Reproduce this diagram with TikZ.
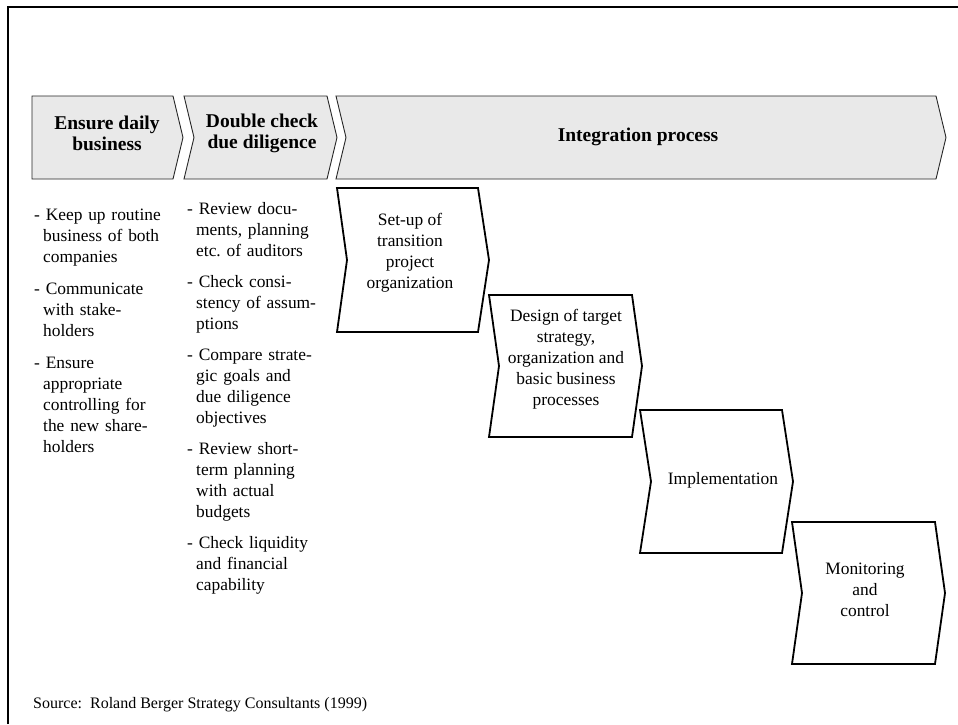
\documentclass[tikz,border=0pt]{standalone}
\usepackage{fontspec}
\setmainfont{Liberation Serif}
\frenchspacing
\definecolor{hdrgray}{HTML}{E9E9E9}
\newcommand{\ind}{\hspace*{9pt}}
\tikzset{
  hdr/.style={draw=black!85, line width=0.9pt, fill=hdrgray, line join=miter},
  stepbox/.style={draw=black, line width=1.8pt, fill=white, line join=miter},
  hdrtext/.style={font=\bfseries\fontsize{19.5}{21}\selectfont, align=center, inner sep=0pt},
  boxtext/.style={font=\fontsize{17.4}{21}\selectfont, align=center, inner sep=0pt},
  coltext/.style={font=\fontsize{17.4}{21}\selectfont, align=left, anchor=north west,
                  inner sep=0pt, text width=148pt},
}
\begin{document}
\begin{tikzpicture}[x=1pt, y=-1pt]
\useasboundingbox (0,0) rectangle (958,724);

% outer frame (left and top edges)
\draw[line width=2pt, black] (7.5,724) -- (7.5,6.5) -- (958,6.5);

% phase header chevrons
\draw[hdr] (32,96) -- (173,96) -- (183,137.5) -- (173,179) -- (32,179) -- cycle;
\draw[hdr] (184,96) -- (327,96) -- (337,137.5) -- (327,179) -- (184,179) -- (194,137.5) -- cycle;
\draw[hdr] (336,96) -- (936,96) -- (946,137.5) -- (936,179) -- (336,179) -- (346,137.5) -- cycle;

\node[hdrtext] (h1) at (107,133) {Ensure daily\\business};
\node[hdrtext] (h2) at (262,133) {Double check\\due diligence};
\node[hdrtext] (h3) at (638,137) {Integration process};

% activity lists
\node[coltext] (c1) at (34,209) {%
- Keep up routine\\\ind business of both\\\ind companies\\[11pt]
- Communicate\\\ind with stake-\\\ind holders\\[11pt]
- Ensure\\\ind appropriate\\\ind controlling for\\\ind the new share-\\\ind holders};

\node[coltext] (c2) at (187,202) {%
- Review docu-\\\ind ments, planning\\\ind etc. of auditors\\[10pt]
- Check consi-\\\ind stency of assum-\\\ind ptions\\[10pt]
- Compare strate-\\\ind gic goals and\\\ind due diligence\\\ind objectives\\[10pt]
- Review short-\\\ind term planning\\\ind with actual\\\ind budgets\\[10pt]
- Check liquidity\\\ind and financial\\\ind capability};

% integration steps
\draw[stepbox] (337,188) -- (478,188) -- (489,260) -- (478,332) -- (337,332) -- (347,260) -- cycle;
\draw[stepbox] (489,295) -- (632,295) -- (642,366) -- (632,437) -- (489,437) -- (499,366) -- cycle;
\draw[stepbox] (640,410) -- (782,410) -- (793,481.5) -- (782,553) -- (640,553) -- (651,481.5) -- cycle;
\draw[stepbox] (792,522) -- (935,522) -- (945,593) -- (935,664) -- (792,664) -- (802,593) -- cycle;

\node[boxtext] (s1) at (410,253) {Set-up of\\transition\\project\\organization};
\node[boxtext] (s2) at (566,359) {Design of target\\strategy,\\organization and\\basic business\\processes};
\node[boxtext] (s3) at (723,480) {Implementation};
\node[boxtext] (s4) at (865,590) {Monitoring\\and\\control};

% source line
\node[font=\fontsize{16}{19}\selectfont, anchor=base west, inner sep=0pt] (src) at (33,708)
  {Source:\ \ Roland Berger Strategy Consultants (1999)};
\end{tikzpicture}
\end{document}
